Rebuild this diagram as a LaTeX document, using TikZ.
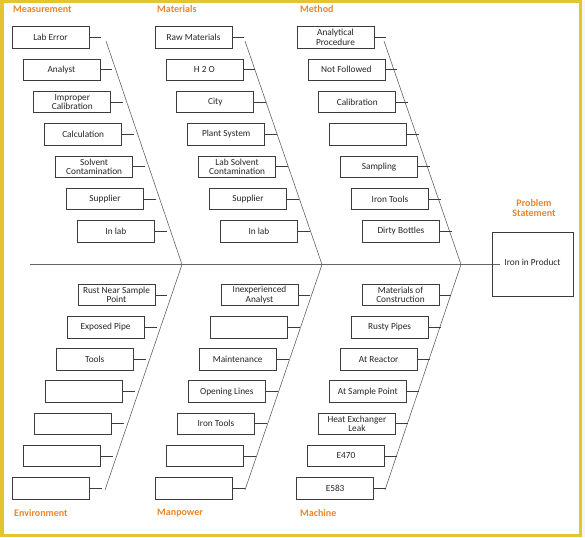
\documentclass[tikz,border=0pt]{standalone}
\usepackage{fontspec}
\setmainfont{Carlito}
\definecolor{frameyel}{RGB}{228,196,48}
\definecolor{headorange}{RGB}{238,132,40}
\definecolor{boxline}{RGB}{60,60,60}
\definecolor{boneline}{RGB}{100,100,100}
\tikzset{
  cause/.style={draw=boxline, line width=0.8pt, fill=white, minimum width=77pt, minimum height=21.5pt,
    inner sep=0pt, align=center, font=\fontsize{9.3}{9.4}\selectfont, text=black!85},
  tickline/.style={draw=boxline, line width=0.7pt},
  boneln/.style={draw=boneline, line width=0.6pt},
  heading/.style={text=headorange, font=\fontsize{10}{11}\selectfont\bfseries, inner sep=0pt, anchor=west},
}
\begin{document}
\begin{tikzpicture}[x=1pt,y=-1pt]
\useasboundingbox (0,0) rectangle (585,537);
\fill[black!4] (0,0) rectangle (585,537);
\fill[frameyel] (0,0) rectangle (582,537);
\fill[white] (3.5,3.5) rectangle (578.5,533.5);

% headings
\node[heading] (hMeas) at (13,9.5) {Measurement};
\node[heading] (hMat) at (157,9.5) {Materials};
\node[heading] (hMeth) at (300,9.5) {Method};
\node[heading] (hEnv) at (14,513) {Environment};
\node[heading] (hMan) at (157,513) {Manpower};
\node[heading] (hMach) at (300,513) {Machine};

% spine
\coordinate (spS) at (30,264.5);
\coordinate (spE) at (500,264.5);
\draw[boneln, line width=0.8pt] (spS) -- (spE);

% bones
\coordinate (b1s) at (106,41); \coordinate (b1e) at (182,264.5);
\coordinate (b2s) at (245,41); \coordinate (b2e) at (322,264.5);
\coordinate (b3s) at (384,41); \coordinate (b3e) at (461,264.5);
\coordinate (b4e) at (105,490);
\coordinate (b5e) at (245,490);
\coordinate (b6e) at (385,490);
\draw[boneln] (b1s) -- (b1e) -- (b4e);
\draw[boneln] (b2s) -- (b2e) -- (b5e);
\draw[boneln] (b3s) -- (b3e) -- (b6e);

% Measurement
\foreach \t [count=\i from 0] in {Lab Error, Analyst, {Improper\\Calibration}, Calculation, {Solvent\\Contamination}, Supplier, In lab} {
  \node[cause] (ms\i) at ({50.5+10.9*\i},{37.5+32.3*\i}) {\t};
  \draw[tickline] (ms\i.east) -- ++(12,0);
}
% Materials
\foreach \t [count=\i from 0] in {Raw Materials, H 2 O, City, Plant System, {Lab Solvent\\Contamination}, Supplier, In lab} {
  \node[cause] (mt\i) at ({193.5+10.9*\i},{37.5+32.3*\i}) {\t};
  \draw[tickline] (mt\i.east) -- ++(12,0);
}
% Method
\foreach \t [count=\i from 0] in {{Analytical\\Procedure}, Not Followed, Calibration, {}, Sampling, Iron Tools, Dirty Bottles} {
  \node[cause] (me\i) at ({335.5+10.9*\i},{37.5+32.3*\i}) {\t};
  \draw[tickline] (me\i.east) -- ++(12,0);
}
% Environment
\foreach \t [count=\i from 0] in {{Rust Near Sample\\Point}, Exposed Pipe, Tools, {}, {}, {}, {}} {
  \node[cause] (en\i) at ({116.5-10.9*\i},{295+32.2*\i}) {\t};
  \draw[tickline] (en\i.east) -- ++(12,0);
}
% Manpower
\foreach \t [count=\i from 0] in {{Inexperienced\\Analyst}, {}, Maintenance, Opening Lines, Iron Tools, {}, {}} {
  \node[cause] (mp\i) at ({259.5-10.9*\i},{295+32.2*\i}) {\t};
  \draw[tickline] (mp\i.east) -- ++(12,0);
}
% Machine
\foreach \t [count=\i from 0] in {{Materials of\\Construction}, Rusty Pipes, At Reactor, At Sample Point, {Heat Exchanger\\Leak}, E470, E583} {
  \node[cause] (mc\i) at ({400.5-10.9*\i},{295+32.2*\i}) {\t};
  \draw[tickline] (mc\i.east) -- ++(12,0);
}

% problem
\node[draw=boxline, line width=0.8pt, minimum width=81pt, minimum height=64pt, inner sep=0pt] (prob) at (532.5,264) {};
\node[font=\fontsize{9.3}{10}\selectfont, text=black!85, inner sep=1pt, fill=white] (probtxt) at (532.5,262.5) {Iron in Product};
\node[text=headorange, font=\fontsize{10}{10.5}\selectfont\bfseries, align=center, inner sep=0pt] (probhead) at (534,208) {Problem\\Statement};
\end{tikzpicture}
\end{document}
